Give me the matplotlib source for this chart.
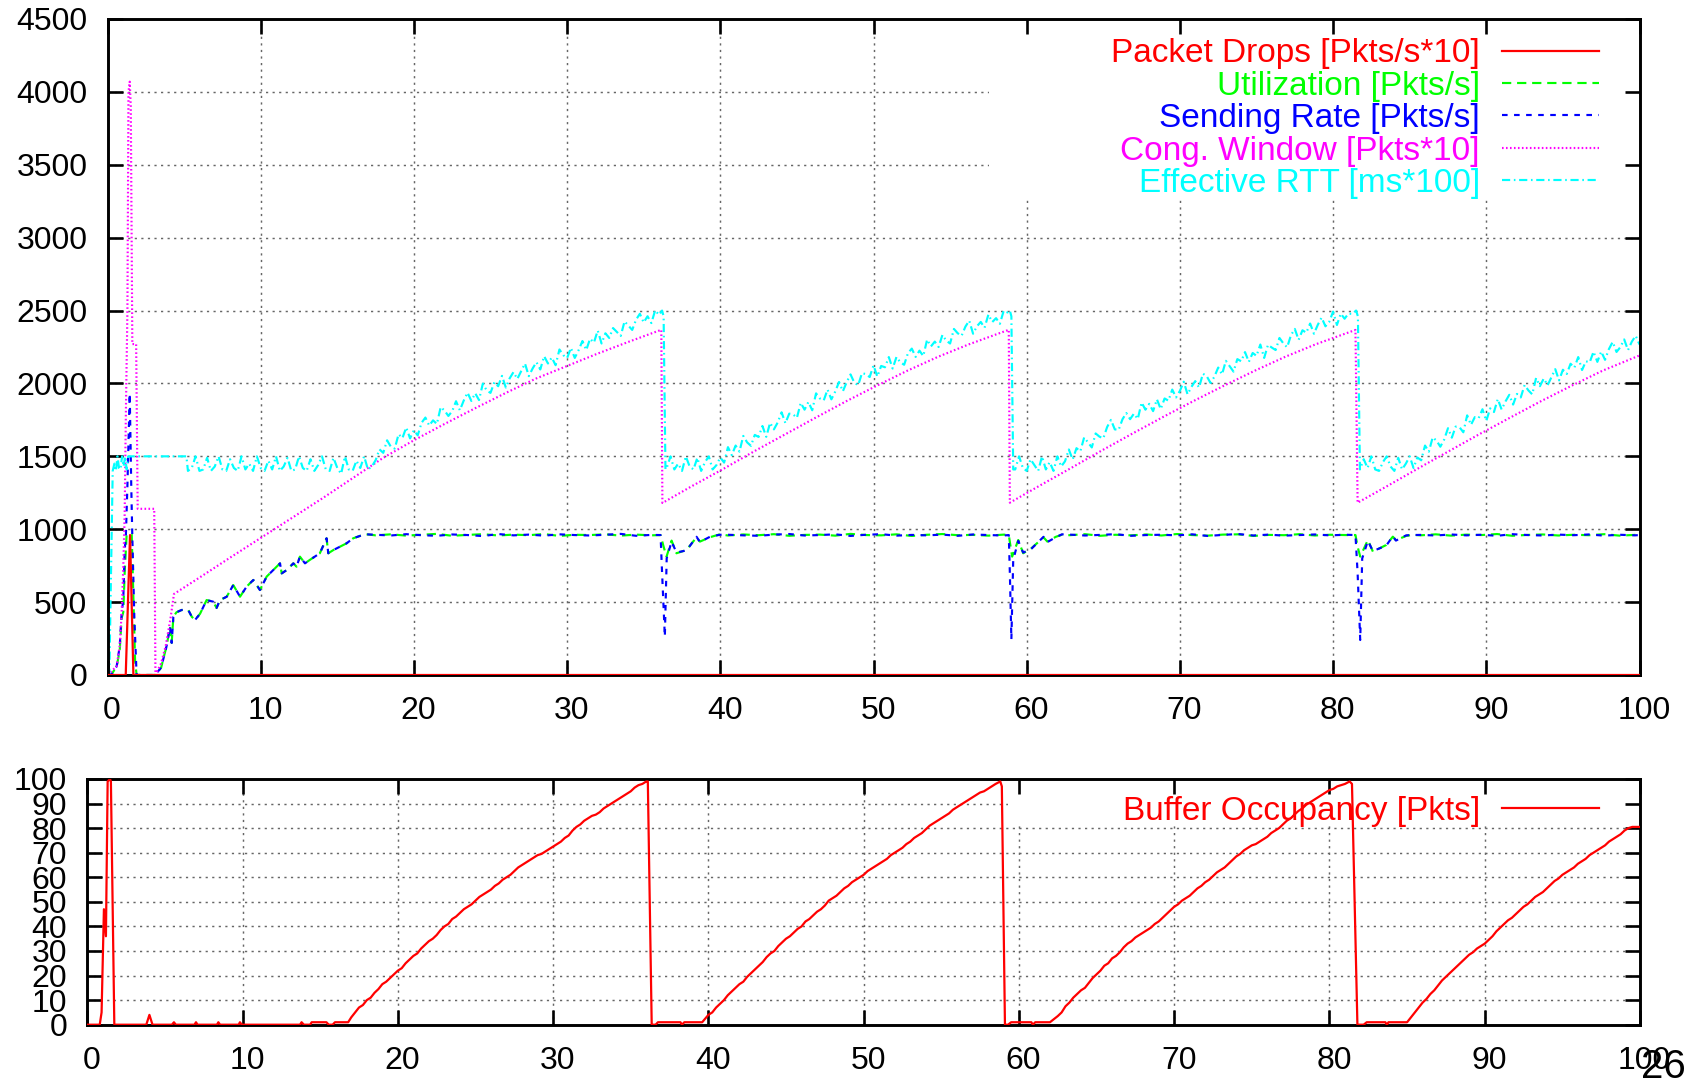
import numpy as np
import matplotlib
matplotlib.use("Agg")
import matplotlib.pyplot as plt
from matplotlib.patches import Rectangle
from matplotlib.transforms import ScaledTranslation

plt.rcParams['font.family'] = ['Liberation Sans', 'DejaVu Sans']

W, H = 1686, 1078


def seg(t0, vals, step):
    return [round(t0 + i * step, 4) for i in range(len(vals))]


# ---------------------------------------------------------------- data
# Packet drops [Pkts/s*10]
drops_t = [0, 1.19, 1.47, 1.69, 100]
drops_v = [0, 0, 960, 0, 0]

# shared slow-start rise of utilization / sending rate
rise_t = [3.1, 3.5, 3.86, 4.08, 4.19, 4.3, 4.5, 4.84, 5.27, 5.5, 5.71, 6.04, 6.47, 6.9,
          7.12, 7.34, 7.78, 8.21, 8.65, 9.08, 9.52, 9.95, 10.39, 10.82, 11.26, 11.37,
          11.7, 12.13, 12.34, 12.56, 12.89, 13.2, 13.86, 14.3, 14.41, 14.74, 15.17,
          15.6, 16.04, 16.48, 16.9]
rise_v = [0, 50, 200, 330, 220, 400, 430, 446, 446, 400, 377, 420, 514, 503, 460, 514,
          537, 617, 537, 606, 652, 583, 675, 720, 766, 697, 720, 766, 743, 812, 766, 789,
          835, 938, 835, 857, 880, 903, 938, 954, 965]

# Utilization [Pkts/s]
util_early_t = [0, 0.3, 0.6, 0.8, 0.92, 1.03, 1.12, 1.25, 1.58, 1.7, 1.8, 1.9]
util_early_v = [0, 10, 60, 170, 390, 430, 700, 965, 965, 500, 100, 0]
util_flat1 = [958, 965, 956, 962, 968, 955, 961, 966, 957, 963, 959, 967, 954, 962, 960, 965, 956, 963, 958]
util_dip1_t = [36.1, 36.3, 36.49, 36.82, 37.14, 37.8, 38.45, 38.67, 39.32, 39.97]
util_dip1_v = [960, 880, 812, 922, 835, 858, 945, 915, 945, 965]
util_flat2 = [957, 964, 959, 966, 955, 961, 963, 956, 968, 960, 958, 965, 954, 962, 967, 959, 961, 956, 963]
util_dip2_t = [58.83, 58.95, 59.05, 59.45, 59.77, 60.3, 61.1, 61.35, 61.9, 62.3]
util_dip2_v = [960, 880, 812, 926, 835, 869, 944, 915, 948, 962]
util_flat3 = [959, 966, 955, 962, 958, 964, 957, 967, 960, 956, 963, 965, 954, 961, 959, 966, 957, 962, 960]
util_dip3_t = [81.46, 81.6, 81.77, 82.27, 82.6, 83.47, 83.9, 84.1, 84.77, 85.2]
util_dip3_v = [960, 880, 812, 926, 846, 892, 949, 925, 954, 962]
util_flat4 = [958, 965, 956, 963, 960, 967, 955, 961, 964, 957, 962, 959, 966, 956, 961, 960]

# Sending rate [Pkts/s]
rate_early_t = [0, 0.3, 0.6, 0.8, 0.92, 1.03, 1.12, 1.2, 1.3, 1.45, 1.55, 1.62, 1.75, 1.9]
rate_early_v = [0, 10, 60, 200, 420, 520, 850, 960, 1300, 1932, 1300, 950, 400, 0]
rate_flat1 = [962, 957, 966, 959, 955, 964, 960, 953, 967, 958, 963, 956, 965, 960, 957, 962, 968, 955, 961]
rate_dip1_t = [36.1, 36.2, 36.38, 36.5, 36.82, 37.14, 37.8, 38.45, 38.67, 39.32, 39.97]
rate_dip1_v = [960, 700, 263, 800, 915, 840, 855, 948, 912, 948, 962]
rate_flat2 = [962, 958, 955, 963, 967, 957, 960, 965, 954, 962, 966, 956, 961, 958, 963, 955, 964, 960, 957]
rate_dip2_t = [58.83, 58.9, 59.0, 59.12, 59.45, 59.77, 60.3, 61.1, 61.35, 61.9, 62.3]
rate_dip2_v = [960, 700, 245, 790, 920, 840, 865, 948, 912, 945, 965]
rate_flat3 = [963, 957, 961, 966, 955, 960, 962, 958, 965, 954, 961, 967, 957, 963, 956, 960, 964, 958, 962]
rate_dip3_t = [81.46, 81.6, 81.77, 81.9, 82.27, 82.6, 83.47, 83.9, 84.1, 84.77, 85.2]
rate_dip3_v = [960, 700, 240, 800, 920, 850, 888, 952, 922, 958, 960]
rate_flat4 = [961, 957, 964, 958, 962, 955, 966, 960, 957, 963, 959, 964, 956, 962, 958, 960]

# Congestion window [Pkts*10]
cwnd_early_t = [0, 0.3, 0.6, 0.8, 0.92, 1.03, 1.12, 1.2, 1.3, 1.37, 1.45, 1.52, 1.62, 1.87,
                1.97, 3.05, 3.13, 3.5, 3.8, 4.1, 4.34]
cwnd_early_v = [0, 30, 60, 200, 420, 740, 1100, 1800, 2500, 4000, 4070, 3900, 2270, 2270,
                1140, 1140, 0, 80, 200, 380, 556]
cwnd_ramp1_t = [6, 8, 10, 12, 14, 16, 18, 20, 22, 24, 26, 28, 30, 32, 34, 36.15]
cwnd_ramp1_v = [668, 805, 940, 1075, 1210, 1350, 1490, 1610, 1722, 1830, 1935, 2035, 2120, 2205, 2285, 2368]
cwnd_c2_t = [36.22, 38.22, 40.22, 42.22, 44.22, 46.22, 48.22, 50.22, 52.22, 54.22, 56.22, 58.83]
cwnd_c2_v = [1180, 1300, 1415, 1535, 1650, 1765, 1878, 1985, 2088, 2183, 2268, 2368]
cwnd_c3_t = [58.9, 60.9, 62.9, 64.9, 66.9, 68.9, 70.9, 72.9, 74.9, 76.9, 78.9, 81.46]
cwnd_c3_v = [1182, 1302, 1420, 1540, 1656, 1770, 1880, 1986, 2088, 2184, 2270, 2367]
cwnd_c4_t = [81.6, 83.6, 85.6, 87.6, 89.6, 91.6, 93.6, 95.6, 97.6, 100]
cwnd_c4_v = [1182, 1300, 1420, 1538, 1655, 1768, 1880, 1986, 2088, 2192]

# Effective RTT [ms*100]
rtt_start_t = [0, 0.12, 0.34, 0.45, 0.55, 0.65, 0.75, 0.85, 0.95, 1.05, 1.15, 1.25, 1.35, 5.15]
rtt_start_v = [0, 0, 1400, 1450, 1400, 1500, 1420, 1410, 1500, 1430, 1500, 1410, 1500, 1500]
rtt_band1 = [1400, 1420, 1500, 1400, 1410, 1490, 1400, 1430, 1500, 1410, 1400, 1480, 1420,
             1400, 1500, 1410, 1450, 1400, 1500, 1420, 1400, 1470, 1410, 1500, 1400, 1430,
             1490, 1400, 1410, 1500, 1420, 1400, 1480, 1400, 1440, 1500, 1410, 1400, 1490,
             1420, 1380, 1500, 1410, 1400, 1470, 1420, 1500, 1410, 1430]
rtt_ramp1 = [1473, 1548, 1524, 1610, 1565, 1553, 1652, 1625, 1698, 1623, 1679, 1644, 1730,
             1766, 1711, 1747, 1722, 1838, 1814, 1777, 1810, 1878, 1816, 1882, 1937, 1880,
             1933, 1886, 1999, 1952, 1935, 2008, 1981, 2052, 1972, 2035, 2078, 2031, 2084,
             2137, 2050, 2103, 2146, 2096, 2187, 2137, 2178, 2125, 2233, 2194, 2174, 2244,
             2175, 2228, 2291, 2229, 2307, 2280, 2363, 2274, 2344, 2312, 2380, 2353, 2326,
             2426, 2396, 2367, 2437, 2478, 2418, 2461, 2414, 2502, 2470]
rtt_drop1_t = [36.2, 36.3, 36.42]
rtt_drop1_v = [2500, 2460, 1410]
rtt_band2 = [1420, 1500, 1410, 1450, 1400, 1500, 1430, 1410, 1490, 1400, 1460, 1500, 1410, 1440]
rtt_ramp2 = [1492, 1457, 1563, 1508, 1574, 1532, 1640, 1596, 1572, 1647, 1633, 1708, 1634,
             1730, 1685, 1733, 1802, 1727, 1793, 1788, 1764, 1867, 1820, 1873, 1816, 1932,
             1897, 1883, 1958, 1891, 1944, 2010, 1946, 2009, 2062, 2005, 1988, 2071, 2064,
             2044, 2124, 2047, 2120, 2111, 2181, 2102, 2182, 2145, 2128, 2208, 2239, 2182,
             2225, 2188, 2301, 2254, 2287, 2250, 2333, 2293, 2274, 2374, 2344, 2327, 2390,
             2431, 2341, 2392, 2422, 2382, 2473, 2421, 2448, 2409, 2499, 2487]
rtt_drop2_t = [58.9, 59.0, 59.12]
rtt_drop2_v = [2500, 2460, 1410]
rtt_band3 = [1410, 1500, 1420, 1400, 1480, 1440, 1400, 1500, 1410, 1460, 1400, 1500, 1430]
rtt_ramp3 = [1466, 1547, 1478, 1556, 1534, 1630, 1596, 1561, 1657, 1635, 1623, 1701, 1750,
             1685, 1681, 1754, 1797, 1755, 1793, 1756, 1869, 1820, 1860, 1810, 1891, 1824,
             1897, 1882, 1958, 1904, 1949, 2012, 1925, 1976, 2016, 1972, 2067, 2050, 2003,
             2046, 2109, 2062, 2155, 2118, 2081, 2167, 2152, 2215, 2148, 2209, 2189, 2267,
             2175, 2265, 2246, 2229, 2312, 2275, 2248, 2331, 2374, 2299, 2365, 2348, 2411,
             2341, 2402, 2452, 2392, 2423, 2493, 2401, 2479, 2444, 2479, 2477]
rtt_drop3_t = [81.5, 81.62, 81.75]
rtt_drop3_v = [2500, 2460, 1410]
rtt_band4 = [1480, 1420, 1500, 1410, 1400, 1460, 1500, 1430, 1400, 1490, 1410, 1450, 1500, 1420]
rtt_ramp4 = [1492, 1473, 1574, 1532, 1630, 1608, 1566, 1615, 1693, 1628, 1704, 1700, 1665,
             1781, 1716, 1769, 1762, 1823, 1743, 1829, 1804, 1893, 1821, 1876, 1922, 1855,
             1928, 1904, 1989, 1952, 1925, 2038, 1981, 2034, 1987, 2043, 2098, 2021, 2094,
             2065, 2135, 2108, 2181, 2092, 2152, 2145, 2218, 2148, 2219, 2162, 2235, 2285,
             2216, 2249, 2302, 2229, 2287, 2327, 2267]

# Buffer occupancy [Pkts]
buf_start_t = [0, 0.8, 0.92, 1.07, 1.2, 1.31, 1.46, 1.52, 1.74, 3.8, 4.0, 4.2, 5.45, 5.58,
               5.7, 6.9, 7.0, 7.1, 8.35, 8.44, 8.55, 9.75, 9.83, 9.95, 13.7, 13.8, 13.95,
               14.35, 14.45, 15.4, 15.55, 15.8, 15.95, 16.8, 17.0]
buf_start_v = [0, 0, 5, 47, 36, 99, 100, 99, 0, 0, 4, 0, 0, 1, 0, 0, 1, 0, 0, 1, 0, 0, 1, 0,
               0, 1, 0, 0, 1, 1, 0, 0, 1, 1, 3]
buf_ramp1 = [7, 8, 10, 11, 13, 14.5, 16.5, 17.5, 19, 20.5, 22, 23, 25, 26.5, 28, 29, 31, 32.5,
             34, 35, 36.5, 38.5, 40, 41, 43, 44, 45.5, 47, 48, 49, 50.5, 52, 53, 54, 55, 56.5,
             57.5, 59, 60, 61, 62.5, 64, 65, 66, 67, 68, 69, 69.5, 70.5, 71.5, 72.5, 73.5,
             74.5, 76, 77, 79, 80.5, 81.5, 83, 84, 85, 85.5, 86.5, 88, 89, 90, 91, 92, 93,
             94, 95, 96.5, 97.5, 98, 99]
buf_low1_t = [36.1, 36.35, 36.6, 36.75, 38.2, 38.3, 38.45, 39.6]
buf_low1_v = [99, 0, 0, 1, 1, 0, 1, 1]
buf_ramp2 = [4, 5, 7, 8.5, 10, 12, 13.5, 15, 16.5, 17.5, 19.5, 21, 22.5, 24, 25.5, 27.5, 29,
             30, 32, 33.5, 35, 36, 37.5, 39, 40, 42, 43, 44.5, 46, 47, 48.5, 50.5, 51.5,
             52.5, 54, 55.5, 56.5, 58, 59, 60, 61, 62.5, 63.5, 64.5, 65.5, 66.5, 67.5, 69,
             70, 71, 72, 73.5, 74.5, 76, 77, 78, 79.5, 81, 82, 83, 84, 85, 86, 87.5, 88.5,
             89.5, 90.5, 91.5, 92.5, 93.5, 94.5, 95, 96, 97, 98]
buf_low2_t = [58.8, 58.9, 59.1, 59.3, 59.5, 60.8, 60.9, 61.05, 62.0]
buf_low2_v = [99, 97, 0, 0, 1, 1, 0, 1, 1]
buf_ramp3 = [3.5, 5, 7.5, 9, 11, 12.5, 14, 15, 17, 19, 20.5, 22, 24, 25, 27, 28, 29.5, 31.5,
             33, 34, 35.5, 36.5, 37.5, 38.5, 39.5, 41, 42, 43.5, 45, 46.5, 48, 49, 50.5, 51.5,
             52.5, 54, 55.5, 56.5, 58, 59, 60.5, 62, 63, 64, 65.5, 67, 68.5, 69.5, 71, 72,
             73, 73.5, 74.5, 75.5, 76.5, 78, 79, 80, 81.5, 83, 84, 85.5, 87, 88, 89.5, 90.5,
             91.5, 92.5, 93.5, 94.5, 95.5, 96, 97, 97.5, 98]
buf_low3_t = [81.3, 81.45, 81.8, 82.2, 82.4, 83.6, 83.7, 83.8, 85.0]
buf_low3_v = [99, 98, 0, 0, 1, 1, 0, 1, 1]
buf_ramp4 = [5, 7, 9, 10.5, 12.5, 14, 16, 18, 19.5, 21, 22.5, 24, 25.5, 27, 28.5, 29.5, 31,
             32, 33, 34.5, 36, 38, 39.5, 41, 42.5, 43.5, 45, 46.5, 48, 49, 50.5, 52, 53,
             54, 55.5, 57, 58.5, 59.5, 61, 62, 63, 64, 65.5, 66.5, 67.5, 69, 70, 71, 72, 73,
             74.5, 75.5, 76.5, 77.5, 79, 80, 80.5, 80.5, 80.5]

top_xticks = list(range(0, 101, 10))
top_yticks = list(range(0, 4501, 500))
bot_yticks = list(range(0, 101, 10))

labels_top = ["Packet Drops [Pkts/s*10]", "Utilization [Pkts/s]", "Sending Rate [Pkts/s]",
              "Cong. Window [Pkts*10]", "Effective RTT [ms*100]"]
label_bot = "Buffer Occupancy [Pkts]"

# ---------------------------------------------------------------- assemble series
util_t = (util_early_t + rise_t + seg(17.5, util_flat1, 1.0) + util_dip1_t
          + seg(40.5, util_flat2, 1.0) + util_dip2_t + seg(62.8, util_flat3, 1.0)
          + util_dip3_t + seg(85.7, util_flat4[:-1], 1.0) + [100])
util_v = (util_early_v + rise_v + util_flat1 + util_dip1_v + util_flat2 + util_dip2_v
          + util_flat3 + util_dip3_v + util_flat4)

rate_t = (rate_early_t + rise_t + seg(17.5, rate_flat1, 1.0) + rate_dip1_t
          + seg(40.5, rate_flat2, 1.0) + rate_dip2_t + seg(62.8, rate_flat3, 1.0)
          + rate_dip3_t + seg(85.7, rate_flat4[:-1], 1.0) + [100])
rate_v = (rate_early_v + rise_v + rate_flat1 + rate_dip1_v + rate_flat2 + rate_dip2_v
          + rate_flat3 + rate_dip3_v + rate_flat4)

cwnd_t = cwnd_early_t + cwnd_ramp1_t + cwnd_c2_t + cwnd_c3_t + cwnd_c4_t
cwnd_v = cwnd_early_v + cwnd_ramp1_v + cwnd_c2_v + cwnd_c3_v + cwnd_c4_v

rtt_t = (rtt_start_t + seg(5.25, rtt_band1, 0.25) + seg(17.5, rtt_ramp1, 0.25) + rtt_drop1_t
         + seg(36.5, rtt_band2, 0.25) + seg(40.0, rtt_ramp2, 0.25) + rtt_drop2_t
         + seg(59.25, rtt_band3, 0.25) + seg(62.5, rtt_ramp3, 0.25) + rtt_drop3_t
         + seg(82.0, rtt_band4, 0.25) + seg(85.5, rtt_ramp4, 0.25))
rtt_v = (rtt_start_v + rtt_band1 + rtt_ramp1 + rtt_drop1_v + rtt_band2 + rtt_ramp2
         + rtt_drop2_v + rtt_band3 + rtt_ramp3 + rtt_drop3_v + rtt_band4 + rtt_ramp4)

buf_t = (buf_start_t + seg(17.5, buf_ramp1, 0.25) + buf_low1_t + seg(40.0, buf_ramp2, 0.25)
         + buf_low2_t + seg(62.5, buf_ramp3, 0.25) + buf_low3_t + seg(85.5, buf_ramp4, 0.25))
buf_v = (buf_start_v + buf_ramp1 + buf_low1_v + buf_ramp2 + buf_low2_v + buf_ramp3
         + buf_low3_v + buf_ramp4)

# ---------------------------------------------------------------- styles
styles = [
    dict(color='#FF0000', lw=1.6, ls='-'),
    dict(color='#00FF00', lw=1.55, ls=(0, (4.3, 2.7))),
    dict(color='#0000FF', lw=1.55, ls=(0, (2.6, 3.0))),
    dict(color='#FF00FF', lw=1.55, ls=(0, (0.75, 1.1))),
    dict(color='#00FFFF', lw=1.55, ls=(0, (3.8, 1.7, 0.75, 1.7))),
]
grid_kw = dict(color='#666666', lw=1.05, ls=(0, (1.5, 3.0)), zorder=0.8)

# ---------------------------------------------------------------- figure
fig = plt.figure(figsize=(W / 100, H / 100), dpi=100)
TL, TR, TT, TB = 107.5, 1639.5, 19.0, 675.0
BL, BR, BT, BB = 87.3, 1640.0, 779.0, 1024.7
ax1 = fig.add_axes([TL / W, 1 - TB / H, (TR - TL) / W, (TB - TT) / H])
ax2 = fig.add_axes([BL / W, 1 - BB / H, (BR - BL) / W, (BB - BT) / H])

series = [(drops_t, drops_v), (util_t, util_v), (rate_t, rate_v), (cwnd_t, cwnd_v), (rtt_t, rtt_v)]
for i, ((t, v), st) in enumerate(zip(series, styles)):
    ax1.plot(t, v, zorder=2.6 if i == 0 else 2.0 + 0.01 * i, **st)
ax2.plot(buf_t, buf_v, zorder=2.6, **styles[0])

ax1.set_xlim(0, 100)
ax1.set_ylim(0, 4500)
ax2.set_xlim(0, 100)
ax2.set_ylim(0, 100)
ax1.set_xticks(top_xticks)
ax1.set_yticks(top_yticks)
ax2.set_xticks(top_xticks)
ax2.set_yticks(bot_yticks)

for ax, yt in ((ax1, top_yticks), (ax2, bot_yticks)):
    for sp in ax.spines.values():
        sp.set_linewidth(2.1)
        sp.set_color('black')
    ax.tick_params(direction='in', length=11, width=1.9, top=True, right=True,
                   labelsize=23, colors='black')
    ax.tick_params(axis='x', pad=15)
    ax.tick_params(axis='y', pad=14.5)
    for x in top_xticks[1:-1]:
        ax.axvline(x, **grid_kw)
    for y in yt[1:-1]:
        ax.axhline(y, **grid_kw)
    off = ScaledTranslation(4.5 / 100, 0, fig.dpi_scale_trans)
    for lab in ax.get_xticklabels():
        lab.set_transform(lab.get_transform() + off)


def key(ax, left, right, top, bottom, box_left_px, box_bottom_px, rows_px, labels, stys):
    w = right - left
    h = bottom - top
    fx = lambda px: (px - left) / w
    fy = lambda py: (bottom - py) / h
    bx, by = fx(box_left_px), fy(box_bottom_px)
    ax.add_patch(Rectangle((bx, by), 1 - bx, 1 - by, transform=ax.transAxes,
                           facecolor='white', edgecolor='none', zorder=1.0))
    em = 24 / 72 * 100
    for row, lab, st in zip(rows_px, labels, stys):
        ax.text(fx(1480), fy(row + 0.358 * em), lab, transform=ax.transAxes,
                ha='right', va='baseline', fontsize=24, color=st['color'], zorder=1.1)
        ax.plot([fx(1502), fx(1599)], [fy(row), fy(row)], transform=ax.transAxes,
                zorder=1.1, **st)


key(ax1, TL, TR, TT, TB, 989, 199, [50.5, 82.8, 115.0, 147.7, 180.3], labels_top, styles)
key(ax2, BL, BR, BT, BB, 1008, 826, [808.0], [label_bot], [styles[0]])

fig.text(1641 / W, 0.0, "26", fontsize=29, ha='left', va='baseline', color='black')

fig.savefig("out.png", dpi=100)
